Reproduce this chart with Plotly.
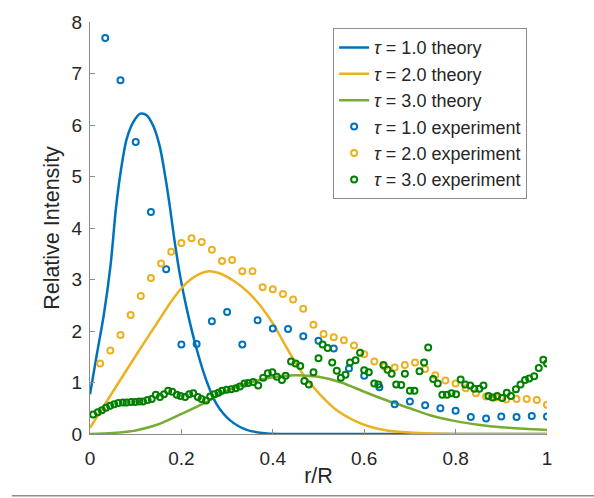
import plotly.graph_objects as go

# ---------------- data ----------------
# theory curves
t1_x = [0, 0.015, 0.03, 0.045, 0.057, 0.069, 0.08, 0.095, 0.11, 0.124, 0.139, 0.153, 0.165,
        0.175, 0.185, 0.197, 0.212, 0.233, 0.255, 0.277, 0.306, 0.343, 0.387, 0.45, 0.6, 0.8, 1.0]
t1_y = [0.77, 1.55, 2.3, 3.28, 4.4, 5.2, 5.72, 6.06, 6.22, 6.19, 5.97, 5.57, 4.98,
        4.4, 3.75, 3.08, 2.42, 1.66, 1.03, 0.58, 0.27, 0.08, 0.01, 0.0, 0.0, 0.0, 0.0]

t2_x = [0, 0.05, 0.1, 0.15, 0.18, 0.2, 0.22, 0.24, 0.26, 0.28, 0.315, 0.345, 0.372, 0.4,
        0.43, 0.467, 0.503, 0.54, 0.576, 0.613, 0.65, 0.7, 0.75, 0.8, 0.9, 1.0]
t2_y = [0.12, 0.82, 1.52, 2.2, 2.6, 2.83, 3.0, 3.11, 3.16, 3.13, 2.97, 2.76, 2.5, 2.15,
        1.68, 1.15, 0.77, 0.46, 0.27, 0.14, 0.07, 0.03, 0.01, 0.0, 0.0, 0.0]

t3_x = [0, 0.05, 0.1, 0.15, 0.2, 0.25, 0.3, 0.35, 0.4, 0.45, 0.5, 0.55, 0.6, 0.65,
        0.7, 0.75, 0.8, 0.85, 0.9, 0.95, 1.0]
t3_y = [0.0, 0.02, 0.07, 0.19, 0.39, 0.6, 0.84, 1.0, 1.1, 1.14, 1.11, 1.0, 0.82, 0.65,
        0.5, 0.35, 0.25, 0.18, 0.13, 0.1, 0.08]

# experiment tau = 1.0 (30 samples)
e1_x = [k / 30 for k in range(1, 31)]
e1_y = [7.69, 6.87, 5.67, 4.31, 3.20, 1.74, 1.75, 2.19, 2.37, 1.74,
        2.21, 2.05, 2.04, 1.90, 1.81, 1.66, 1.27, 1.13, 0.91, 0.58,
        0.63, 0.56, 0.50, 0.45, 0.33, 0.30, 0.34, 0.33, 0.35, 0.34]

# experiment tau = 2.0 (45 samples)
e2_x = [k / 45 for k in range(1, 46)]
e2_y = [1.37, 1.62, 1.92, 2.31, 2.68, 3.03, 3.31, 3.54, 3.71, 3.80,
        3.73, 3.58, 3.36, 3.38, 3.16, 3.16, 2.85, 2.81, 2.72, 2.61,
        2.43, 2.12, 1.94, 1.88, 1.82, 1.72, 1.55, 1.41, 1.31, 1.29,
        1.34, 1.39, 1.26, 1.14, 1.04, 0.98, 0.89, 0.79, 0.73, 0.71,
        0.67, 0.68, 0.68, 0.66, 0.57]

# experiment tau = 3.0
e3_x = [0.007, 0.017, 0.026, 0.035, 0.044, 0.053, 0.062, 0.072, 0.080, 0.090,
        0.099, 0.108, 0.116, 0.126, 0.135, 0.144, 0.153, 0.162, 0.171, 0.180,
        0.190, 0.198, 0.208, 0.217, 0.226, 0.236, 0.244, 0.254,
        0.263, 0.272, 0.281, 0.289, 0.299, 0.309, 0.319, 0.328, 0.338, 0.346,
        0.357, 0.368, 0.379, 0.389, 0.399, 0.409, 0.420, 0.428, 0.440, 0.450,
        0.460, 0.469, 0.479, 0.489, 0.500,
        0.509, 0.520, 0.530, 0.540, 0.549, 0.559, 0.569, 0.581, 0.591, 0.600,
        0.610, 0.622, 0.631, 0.642, 0.651, 0.660, 0.670, 0.681, 0.689, 0.700,
        0.710, 0.721, 0.731, 0.740, 0.751, 0.761, 0.771, 0.781,
        0.791, 0.801, 0.811, 0.821, 0.832, 0.841, 0.852, 0.861, 0.872, 0.881,
        0.891, 0.902, 0.912, 0.921, 0.932, 0.942, 0.952, 0.961, 0.972, 0.982,
        0.992, 1.000]
e3_y = [0.38, 0.42, 0.46, 0.51, 0.55, 0.58, 0.60, 0.61, 0.61, 0.62,
        0.62, 0.63, 0.63, 0.66, 0.68, 0.76, 0.72, 0.77, 0.84, 0.82,
        0.76, 0.74, 0.72, 0.77, 0.79, 0.72, 0.68, 0.65,
        0.73, 0.77, 0.80, 0.84, 0.86, 0.87, 0.89, 0.92, 0.98, 0.99,
        1.01, 0.94, 1.09, 1.18, 1.20, 1.11, 1.05, 1.13, 1.41, 1.37,
        1.32, 1.03, 0.96, 1.20, 1.47,
        1.74, 1.67, 1.39, 1.23, 1.09, 1.15, 1.39, 1.43, 1.58, 1.24,
        1.20, 0.98, 0.96, 1.34, 1.25, 1.17, 0.96, 0.95, 1.17, 0.84,
        0.84, 1.22, 1.39, 1.68, 1.07, 0.98, 0.76, 0.76,
        0.79, 0.77, 1.06, 0.96, 0.94, 0.88, 0.88, 0.94, 0.74, 0.71,
        0.74, 0.70, 0.80, 0.74, 0.87, 0.96, 1.05, 1.08, 1.12, 1.28,
        1.44, 1.37]

names_theory = ["<i>τ</i> = 1.0 theory", "<i>τ</i> = 2.0 theory", "<i>τ</i> = 3.0 theory"]
names_exp = ["<i>τ</i> = 1.0 experiment", "<i>τ</i> = 2.0 experiment", "<i>τ</i> = 3.0 experiment"]
x_ticks = [0, 0.2, 0.4, 0.6, 0.8, 1]
x_ticklabels = ["0", "0.2", "0.4", "0.6", "0.8", "1"]
y_ticks = [0, 1, 2, 3, 4, 5, 6, 7, 8]

# ---------------- figure ----------------
c_blue = "#0072BD"
c_orange = "#EDB120"
c_green_line = "#77AC30"
c_green_pts = "#008000"

fig = go.Figure()
for xs, ys, nm, col in [(t1_x, t1_y, names_theory[0], c_blue),
                        (t2_x, t2_y, names_theory[1], c_orange),
                        (t3_x, t3_y, names_theory[2], c_green_line)]:
    fig.add_trace(go.Scatter(x=xs, y=ys, mode="lines", name=nm,
                             line=dict(color=col, width=2.5, shape="spline", smoothing=0.8)))

for xs, ys, nm, col in [(e1_x, e1_y, names_exp[0], c_blue),
                        (e2_x, e2_y, names_exp[1], c_orange),
                        (e3_x, e3_y, names_exp[2], c_green_pts)]:
    fig.add_trace(go.Scatter(x=xs, y=ys, mode="markers", name=nm,
                             marker=dict(symbol="circle-open", size=6, color=col,
                                         line=dict(width=2, color=col))))

font_family = "Arial, Liberation Sans, Helvetica, sans-serif"
axis_common = dict(showline=True, linecolor="#8c8c8c", linewidth=1,
                   ticks="inside", ticklen=5, tickcolor="#8c8c8c",
                   showgrid=False, zeroline=False, mirror=False,
                   tickfont=dict(size=19, color="#262626", family=font_family))

fig.update_layout(
    width=594, height=498,
    margin=dict(l=90, r=47, t=13, b=64),
    paper_bgcolor="white", plot_bgcolor="white",
    font=dict(family=font_family, color="#262626"),
    xaxis=dict(range=[0, 1], tickvals=x_ticks, ticktext=x_ticklabels, ticklabelstandoff=7,
               title=dict(text="r/R", font=dict(size=21.5, color="#262626"), standoff=0),
               **axis_common),
    yaxis=dict(range=[0, 8], tickvals=y_ticks, ticklabelstandoff=3,
               title=dict(text="Relative Intensity", font=dict(size=21.5, color="#262626"), standoff=6),
               **axis_common),
    legend=dict(x=0.532, y=0.985, xanchor="left", yanchor="top",
                bgcolor="white", bordercolor="#8c8c8c", borderwidth=1,
                font=dict(size=18, color="#262626", family=font_family),
                tracegroupgap=0, itemwidth=30),
    showlegend=True,
    shapes=[dict(type="line", xref="paper", yref="paper",
                 x0=-0.171, x1=1.103, y0=-0.1496, y1=-0.1496,
                 line=dict(color="#8c8c8c", width=1.5))],
)

fig.write_html("out.html")
